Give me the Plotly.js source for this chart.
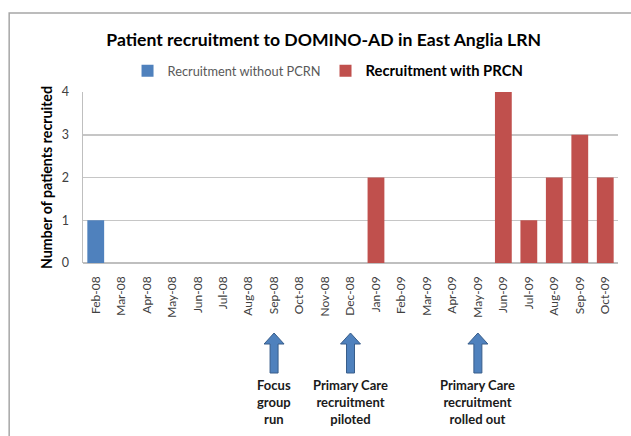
<!DOCTYPE html>
<html>
<head>
<meta charset="utf-8">
<script src="https://cdn.plot.ly/plotly-3.0.1.min.js"></script>
<style>
  html, body { margin: 0; padding: 0; background: #ffffff; }
  #chart { width: 631px; height: 436px; }
</style>
</head>
<body>
<div id="chart"></div>
<script>
var months = ['Feb-08','Mar-08','Apr-08','May-08','Jun-08','Jul-08','Aug-08','Sep-08','Oct-08','Nov-08','Dec-08',
              'Jan-09','Feb-09','Mar-09','Apr-09','May-09','Jun-09','Jul-09','Aug-09','Sep-09','Oct-09'];
var withoutPCRN = [1,0,0,0,0,0,0,0,0,0,0, 0,0,0,0,0,0,0,0,0,0];
var withPRCN    = [0,0,0,0,0,0,0,0,0,0,0, 2,0,0,0,0,4,1,2,3,2];
var yTicks = [0,1,2,3,4];
var eventMonths = ['Sep-08','Dec-08','May-09'];
var eventLabels = ['Focus<br>group<br>run', 'Primary Care<br>recruitment<br>piloted', 'Primary Care<br>recruitment<br>rolled out'];

var FONT = 'Lato, "Open Sans", sans-serif';

var traces = [
  {
    type: 'bar', x: months, y: withoutPCRN, name: 'Recruitment without PCRN',
    marker: { color: '#4f81bd' }
  },
  {
    type: 'bar', x: months, y: withPRCN, name: '<b><span style="font-size:14.8px;color:#000">Recruitment with PRCN</span></b>',
    marker: { color: '#c0504d' }
  }
];

var shapes = [
  { type: 'rect', xref: 'paper', yref: 'paper', x0: -0.138, x1: 1.2, y0: -1.2, y1: 1.462,
    line: { color: '#a6a6a6', width: 1.5 }, fillcolor: 'rgba(0,0,0,0)', layer: 'below' }
];
var annotations = [];
eventMonths.forEach(function (m, i) {
  shapes.push({
    type: 'path', xref: 'x', yref: 'paper', xsizemode: 'pixel', ysizemode: 'pixel',
    xanchor: m, yanchor: 0,
    path: 'M -4,-110 L 4,-110 L 4,-81 L 10,-81 L 0,-70 L -10,-81 L -4,-81 Z',
    fillcolor: '#4f81bd', line: { color: '#385d8a', width: 1 }
  });
  annotations.push({
    xref: 'x', yref: 'paper', x: m, y: 0, yanchor: 'top', yshift: -112,
    text: '<b>' + eventLabels[i] + '</b>', showarrow: false, align: 'center',
    font: { family: FONT, size: 13, color: '#1a1a1a' }
  });
});

var layout = {
  width: 631, height: 436,
  margin: { l: 83, r: 13, t: 92, b: 173, autoexpand: false },
  paper_bgcolor: '#ffffff', plot_bgcolor: '#ffffff',
  barmode: 'overlay', bargap: 0.34,
  title: { text: '<b>Patient recruitment to DOMINO-AD in East Anglia LRN</b>',
           font: { family: FONT, size: 17.6, color: '#000000' },
           x: 0.513, xanchor: 'center', y: 0.908, yanchor: 'middle', xref: 'container', yref: 'container' },
  showlegend: true,
  legend: { orientation: 'h', x: 0.458, xanchor: 'center', xref: 'paper', y: 1.123, yanchor: 'middle', yref: 'paper',
            font: { family: FONT, size: 12.8, color: '#595959' }, itemwidth: 30, traceorder: 'normal' },
  xaxis: {
    type: 'category', tickangle: -90, showline: false, showgrid: false, ticks: '',
    tickfont: { family: FONT, size: 12, color: '#404040' }, ticklabelstandoff: 10,
    automargin: false, fixedrange: true
  },
  yaxis: {
    range: [0, 4], tickvals: yTicks, showline: true, linecolor: '#bfbfbf', linewidth: 1.5,
    showgrid: true, gridcolor: '#c6c6c6', gridwidth: 1.5, zeroline: true, zerolinecolor: '#bfbfbf', zerolinewidth: 1.5,
    ticks: '', tickfont: { family: FONT, size: 12.5, color: '#404040' }, ticklabelstandoff: 10,
    title: { text: '<b>Number of patients recruited</b>', font: { family: FONT, size: 14.2, color: '#000000' }, standoff: 6 },
    automargin: false, fixedrange: true
  },
  shapes: shapes,
  annotations: annotations
};

Plotly.newPlot('chart', traces, layout, { displayModeBar: false, staticPlot: true });
</script>
</body>
</html>
